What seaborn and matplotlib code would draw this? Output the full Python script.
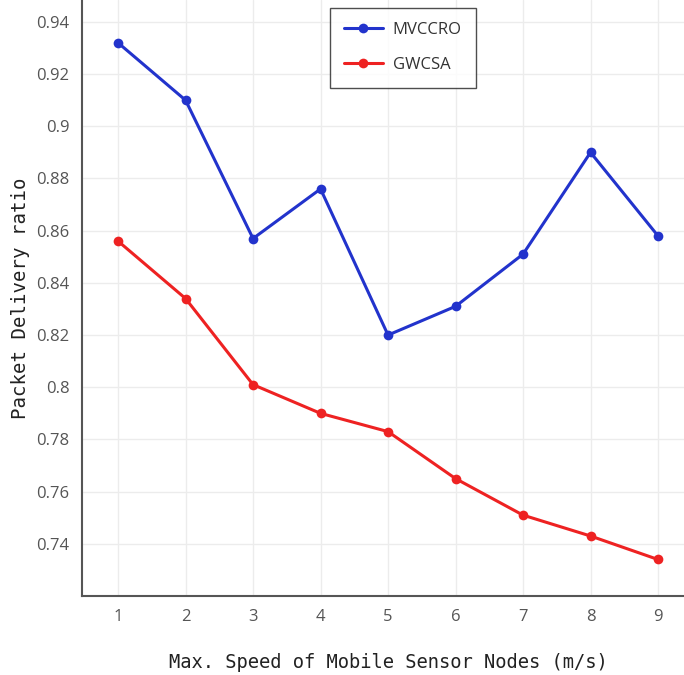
import pandas as pd
import matplotlib
matplotlib.use("Agg")
import matplotlib.pyplot as plt
import seaborn as sns

# Values
speed = [1, 2, 3, 4, 5, 6, 7, 8, 9]
mvccro = [0.932, 0.910, 0.857, 0.876, 0.820, 0.831, 0.851, 0.890, 0.858]
gwcsa = [0.856, 0.834, 0.801, 0.790, 0.783, 0.765, 0.751, 0.743, 0.734]
series = ["MVCCRO", "GWCSA"]
colors = ["#2233cc", "#ee2222"]
yticks = [0.74, 0.76, 0.78, 0.8, 0.82, 0.84, 0.86, 0.88, 0.9, 0.92, 0.94]
ytick_labels = ["0.74", "0.76", "0.78", "0.8", "0.82", "0.84", "0.86", "0.88", "0.9", "0.92", "0.94"]

df = pd.DataFrame({
    "speed": speed * 2,
    "pdr": mvccro + gwcsa,
    "method": [series[0]] * len(speed) + [series[1]] * len(speed),
})

sns.set_style("white")
plt.rcParams["font.family"] = ["Open Sans", "DejaVu Sans"]

fig = plt.figure(figsize=(6.84, 6.75), dpi=100)
ax = fig.add_axes([0.12, 0.117, 0.88, 0.883])

sns.lineplot(data=df, x="speed", y="pdr", hue="method", palette=colors,
             marker="o", markersize=7, markeredgewidth=0, linewidth=2.2, ax=ax)

ax.set_xlim(0.467, 9.385)
ax.set_ylim(0.72, 0.9484)
ax.set_xticks(speed)
ax.set_yticks(yticks)
ax.set_yticklabels(ytick_labels)
ax.grid(True, color="#ececec", linewidth=1)
ax.set_axisbelow(True)
ax.tick_params(axis="both", length=0, labelsize=12, labelcolor="#555555", pad=9)

for s in ["top", "right"]:
    ax.spines[s].set_visible(False)
for s in ["left", "bottom"]:
    ax.spines[s].set_color("#555555")
    ax.spines[s].set_linewidth(1.5)

ax.set_xlabel("")
ax.set_ylabel("")
fig.text(388 / 684, 1 - 662 / 675, "Max. Speed of Mobile Sensor Nodes (m/s)",
         family="DejaVu Sans Mono", fontsize=13.5, color="#222222",
         ha="center", va="center")
fig.text(21 / 684, 1 - 298 / 675, "Packet Delivery ratio",
         family="DejaVu Sans Mono", fontsize=13.7, color="#222222",
         ha="center", va="center", rotation=90)

leg = ax.legend(loc="upper left", bbox_to_anchor=(330 / 684, 1 - 8 / 675),
                bbox_transform=fig.transFigure, frameon=True, fancybox=False,
                fontsize=12, handlelength=2.3, borderpad=0.85, labelspacing=1.15,
                handletextpad=0.6, borderaxespad=0)
leg.get_frame().set_edgecolor("#222222")
leg.get_frame().set_linewidth(1.0)
for t in leg.get_texts():
    t.set_color("#333333")

fig.savefig("out.png", dpi=100)
